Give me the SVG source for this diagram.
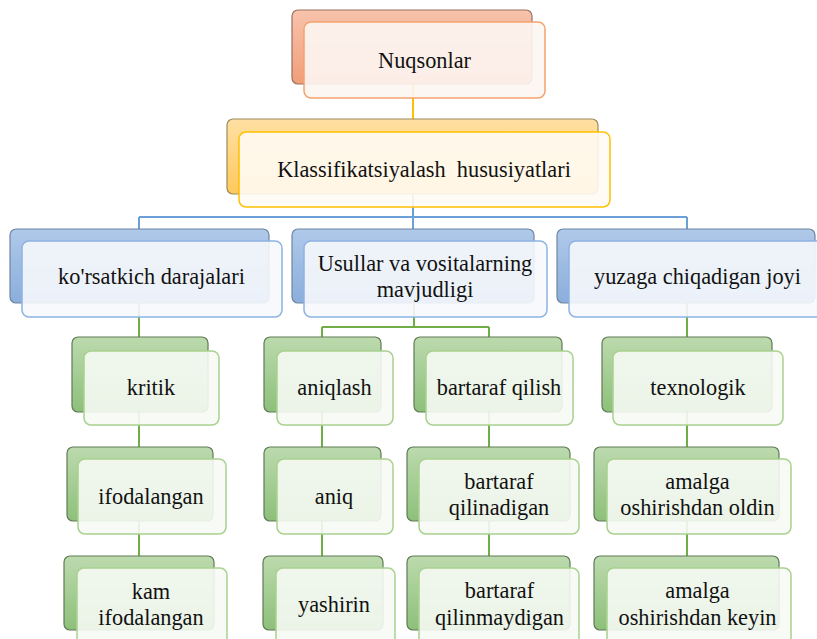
<svg xmlns="http://www.w3.org/2000/svg" width="817" height="639" viewBox="0 0 817 639" font-family="Liberation Serif, DejaVu Serif, serif">
<defs>
<linearGradient id="gO" x1="0" y1="0" x2="0" y2="1"><stop offset="0" stop-color="#F8C3AC"/><stop offset="1" stop-color="#F19E79"/></linearGradient>
<linearGradient id="gY" x1="0" y1="0" x2="0" y2="1"><stop offset="0" stop-color="#FFE0A3"/><stop offset="1" stop-color="#FFC95C"/></linearGradient>
<linearGradient id="gB" x1="0" y1="0" x2="0" y2="1"><stop offset="0" stop-color="#AFC9E9"/><stop offset="1" stop-color="#8BAEDC"/></linearGradient>
<linearGradient id="gG" x1="0" y1="0" x2="0" y2="1"><stop offset="0" stop-color="#BCDAAE"/><stop offset="1" stop-color="#8DC07A"/></linearGradient>
</defs>
<style>
.bk{stroke-width:1.2}
.o .bk{fill:url(#gO);stroke:#9A7060}
.y .bk{fill:url(#gY);stroke:#9C8A5C}
.b .bk{fill:url(#gB);stroke:#6F85A0}
.g .bk{fill:url(#gG);stroke:#5F7A55}
.fr{stroke-width:1.5;fill-opacity:0.9}
.o .fr{fill:#FDF6F3;stroke:#F4A36E}
.y .fr{fill:#FFFBF4;stroke:#FFC000}
.b .fr{fill:#F6F8FC;stroke:#8DB3E2}
.g .fr{fill:#F6FAF4;stroke:#A9D18E}
text{font-family:'Liberation Serif','DejaVu Serif',serif;font-size:23.5px;fill:#111;text-anchor:middle;transform-box:fill-box;transform-origin:center;transform:scaleX(0.95)}
.c{fill:none;stroke-width:2}
</style>
<g id="connectors">
<path class="c" stroke="#FFC000" d="M413,84V132"/>
<path class="c" stroke="#6A9FD8" d="M413,194V241M139,217H687M139,217V229M687,217V229"/>
<path class="c" stroke="#70AD47" d="M139,303V560M414,303V327M322,327H489M322,327V560M489,327V560M687,303V560"/>
</g>
<g id="n-nuqsonlar" class="o"><rect class="bk" x="292" y="10" width="240" height="74" rx="6"/><rect class="fr" x="304" y="22" width="241" height="76" rx="7"/><text x="424.5" y="68">Nuqsonlar</text></g>
<g id="n-klass" class="y"><rect class="bk" x="227" y="119" width="371" height="75" rx="6"/><rect class="fr" x="239" y="132" width="371" height="75" rx="7"/><text x="424" y="177" xml:space="preserve">Klassifikatsiyalash  hususiyatlari</text></g>
<g id="n-korsatkich" class="b"><rect class="bk" x="10" y="229" width="259" height="74" rx="6"/><rect class="fr" x="22" y="241" width="260" height="76" rx="7"/><text x="151.5" y="284">ko'rsatkich darajalari</text></g>
<g id="n-usullar" class="b"><rect class="bk" x="292" y="229" width="242" height="74" rx="6"/><rect class="fr" x="304" y="241" width="243" height="76" rx="7"/><text x="425"><tspan x="425" y="271">Usullar va vositalarning</tspan><tspan x="425" y="297">mavjudligi</tspan></text></g>
<g id="n-yuzaga" class="b"><rect class="bk" x="557" y="229" width="258" height="74" rx="6"/><rect class="fr" x="569" y="241" width="258" height="76" rx="7"/><text x="697.5" y="284">yuzaga chiqadigan joyi</text></g>
<g id="n-kritik" class="g"><rect class="bk" x="72" y="337" width="136" height="75" rx="6"/><rect class="fr" x="84" y="351" width="135" height="74" rx="7"/><text x="151" y="395">kritik</text></g>
<g id="n-ifodalangan" class="g"><rect class="bk" x="67" y="447" width="146" height="74" rx="6"/><rect class="fr" x="78" y="459" width="148" height="75" rx="7"/><text x="151" y="504">ifodalangan</text></g>
<g id="n-kam" class="g"><rect class="bk" x="64" y="556" width="150" height="74" rx="6"/><rect class="fr" x="77" y="568" width="150" height="80" rx="7"/><text x="151"><tspan x="151" y="599">kam</tspan><tspan x="151" y="625">ifodalangan</tspan></text></g>
<g id="n-aniqlash" class="g"><rect class="bk" x="264" y="337" width="117" height="75" rx="6"/><rect class="fr" x="277" y="351" width="116" height="74" rx="7"/><text x="334.5" y="395">aniqlash</text></g>
<g id="n-aniq" class="g"><rect class="bk" x="264" y="447" width="117" height="74" rx="6"/><rect class="fr" x="277" y="459" width="116" height="75" rx="7"/><text x="334" y="504">aniq</text></g>
<g id="n-yashirin" class="g"><rect class="bk" x="263" y="556" width="120" height="74" rx="6"/><rect class="fr" x="276" y="568" width="119" height="80" rx="7"/><text x="334" y="612">yashirin</text></g>
<g id="n-bartaraf" class="g"><rect class="bk" x="414" y="337" width="148" height="75" rx="6"/><rect class="fr" x="426" y="351" width="147" height="74" rx="7"/><text x="499" y="395">bartaraf qilish</text></g>
<g id="n-qilinadigan" class="g"><rect class="bk" x="407" y="447" width="163" height="74" rx="6"/><rect class="fr" x="419" y="459" width="160" height="75" rx="7"/><text x="499"><tspan x="499" y="489">bartaraf</tspan><tspan x="499" y="515">qilinadigan</tspan></text></g>
<g id="n-qilinmaydigan" class="g"><rect class="bk" x="407" y="556" width="163" height="74" rx="6"/><rect class="fr" x="419" y="568" width="160" height="80" rx="7"/><text x="499.5"><tspan x="499.5" y="598">bartaraf</tspan><tspan x="499.5" y="625">qilinmaydigan</tspan></text></g>
<g id="n-texnologik" class="g"><rect class="bk" x="602" y="337" width="170" height="75" rx="6"/><rect class="fr" x="613" y="351" width="170" height="74" rx="7"/><text x="698" y="395">texnologik</text></g>
<g id="n-oldin" class="g"><rect class="bk" x="594" y="447" width="185" height="74" rx="6"/><rect class="fr" x="607" y="459" width="184" height="75" rx="7"/><text x="697.5"><tspan x="697.5" y="489">amalga</tspan><tspan x="697.5" y="515">oshirishdan oldin</tspan></text></g>
<g id="n-keyin" class="g"><rect class="bk" x="594" y="556" width="185" height="74" rx="6"/><rect class="fr" x="607" y="568" width="184" height="80" rx="7"/><text x="697.5"><tspan x="697.5" y="598">amalga</tspan><tspan x="697.5" y="625">oshirishdan keyin</tspan></text></g>
</svg>
